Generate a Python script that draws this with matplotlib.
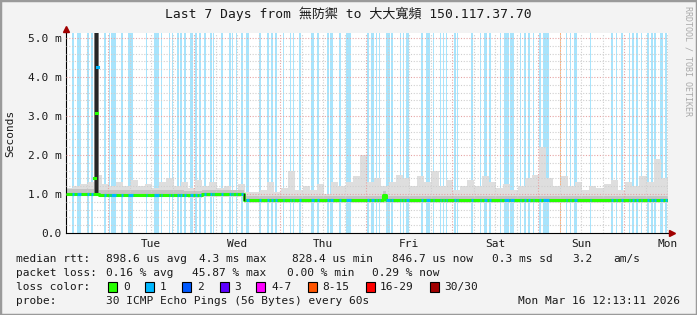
import numpy as np
import matplotlib
matplotlib.use('Agg')
import matplotlib.pyplot as plt
from matplotlib.patches import Rectangle

W, H = 697, 315
MONO = 'DejaVu Sans Mono'

# time axis: hours since Mon Mar 9 12:13:11 (graph spans 7 days)
span_h = 168
day_labels = ['Tue', 'Wed', 'Thu', 'Fri', 'Sat', 'Sun', 'Mon']
first_midnight = 11.78   # Tue 00:00

# periods with 1/30 packet loss (hours)
loss_start = [1.6, 3.1, 5.8, 7.0, 10.6, 11.9, 12.6, 15.3, 17.4, 22.3, 24.6, 26.4, 28.7, 29.6,
              30.9, 31.8, 32.9, 34.5, 36.1, 37.2, 38.5, 40.3, 41.0, 43.2, 45.5, 46.2, 47.4, 48.8,
              50.2, 53.9, 56.1, 57.2, 58.4, 60.6, 62.5, 63.3, 65.1, 68.4, 70.0, 72.7, 73.7, 76.2,
              78.0, 83.9, 85.1, 86.5, 87.3, 89.3, 90.7, 93.2, 94.0, 94.9, 99.0, 100.6, 102.4, 104.3,
              105.2, 106.0, 108.3, 109.1, 113.0, 115.5, 116.6, 118.0, 121.0, 122.2, 123.9, 126.7,
              127.8, 128.9, 130.3, 131.9, 133.1, 139.5, 140.6, 141.7, 146.2, 152.1, 153.5, 154.8,
              157.1, 157.9, 159.0, 160.4, 162.1, 163.2, 164.1, 165.7, 167.1]
loss_end = [2.3, 4.2, 6.4, 7.6, 11.2, 12.3, 14.0, 15.9, 18.6, 22.7, 25.9, 26.9, 29.0, 29.9,
            31.4, 32.3, 33.5, 35.4, 36.6, 37.6, 39.1, 40.7, 41.3, 43.8, 46.0, 46.7, 47.7, 49.5,
            51.1, 54.3, 56.6, 57.8, 58.9, 60.8, 62.9, 63.7, 65.5, 69.2, 70.5, 73.4, 74.4, 76.7,
            79.4, 84.6, 86.0, 86.9, 87.6, 90.4, 91.2, 93.5, 94.4, 95.6, 99.6, 101.6, 102.7, 104.7,
            105.5, 106.3, 108.8, 109.5, 113.6, 115.8, 117.5, 118.6, 121.5, 123.6, 125.1, 127.0,
            128.3, 129.6, 130.7, 132.5, 134.8, 139.9, 141.0, 142.6, 146.5, 152.7, 153.8, 155.4,
            157.4, 158.4, 159.6, 160.8, 162.6, 163.8, 164.6, 166.6, 167.6]
loss8_start = [137.8]
loss8_end = [138.1]

# median rtt (ms), step changes
median_t = [0, 9.3, 33, 38, 49.6, 88.6, 89.3, 168]
median_v = [1.0, 0.98, 0.97, 0.99, 0.84, 0.97, 0.84, 0.84]

# smoke top (ms), 2h bins
smoke_t = np.arange(0, 168, 2)
smoke_top = [1.15, 1.2, 1.25, 1.3, 1.5, 1.25, 1.2, 1.3, 1.2, 1.35, 1.2, 1.25, 1.15, 1.3,
             1.4, 1.2, 1.3, 1.15, 1.35, 1.2, 1.3, 1.15, 1.2, 1.1, 1.25, 1.05, 1.05, 1.1,
             1.3, 1.05, 1.15, 1.6, 1.1, 1.2, 1.1, 1.25, 1.0, 1.3, 1.2, 1.3, 1.45, 2.0,
             1.3, 1.4, 1.2, 1.3, 1.5, 1.4, 1.2, 1.45, 1.3, 1.6, 1.2, 1.35, 1.1, 1.2,
             1.35, 1.2, 1.45, 1.3, 1.15, 1.25, 1.1, 1.2, 1.4, 1.5, 2.2, 1.4, 1.2, 1.45,
             1.2, 1.3, 1.1, 1.2, 1.15, 1.25, 1.35, 1.1, 1.3, 1.2, 1.45, 1.3, 1.9, 1.4]

# the latency spike on Monday evening
spike_col = (7.73, 9.21)
spike_core = (8.18, 8.93)
spike_t = [8.0, 8.4, 8.85]
spike_v = [1.42, 3.07, 4.26]
spike_cls = [0, 0, 1]

loss_colors = ['#26ff00', '#00b8ff', '#0059ff', '#5e00ff', '#ff00ff', '#ff5500', '#ff0000', '#a10000']
loss_labels = ['0', '1', '2', '3', '4-7', '8-15', '16-29', '30/30']

ymax = 5.13


def med_at(t):
    i = np.searchsorted(median_t, t, side='right') - 1
    return median_v[max(0, min(i, len(median_v) - 1))]


fig = plt.figure(figsize=(W / 100, H / 100), dpi=100, facecolor='#f3f3f3')
L, R, T, B = 66, 668, 33, 233
ax = fig.add_axes([L / W, 1 - B / H, (R - L) / W, (B - T) / H])
ax.set_facecolor('white')
ax.set_xlim(0, span_h)
ax.set_ylim(0, ymax)

# loss background stripes
for s, e in zip(loss_start, loss_end):
    ax.axvspan(s, e, color='#a8e4fc', lw=0, zorder=1)
for s, e in zip(loss8_start, loss8_end):
    ax.axvspan(s, e, color='#ffb07a', lw=0, zorder=1)

# smoke
edges = np.append(smoke_t, span_h)
top = np.append(smoke_top, smoke_top[-1])
base = np.array([med_at(t) for t in edges]) - 0.06
ax.fill_between(edges, base, top, step='post', color='#dedede', lw=0, zorder=2)
mt = np.array(median_t, dtype=float)
mv = np.array(median_v)
ax.fill_between(mt, mv - 0.05, mv + 0.12, step='post', color='#c4c4c4', lw=0, zorder=2)

# grid
minor_y = np.arange(0.2, ymax, 0.2)
for y in minor_y:
    if abs(y - round(y)) > 0.01:
        ax.axhline(y, color='#cfcfcf', lw=0.8, ls=(0, (1, 1.5)), zorder=4)
for y in range(1, 6):
    ax.axhline(y, color='#e6a4a4', lw=0.8, ls=(0, (1, 1.5)), zorder=4)
for k in range(28):
    x = first_midnight - 6 + 6 * k
    if 0 < x < span_h and k % 4 != 1:
        ax.axvline(x, color='#cfcfcf', lw=0.8, ls=(0, (1, 1.5)), zorder=4)
for k in range(7):
    ax.axvline(first_midnight + 24 * k, color='#e6a4a4', lw=0.8, ls=(0, (1, 1.5)), zorder=4)

# spike column (drawn over the grid)
ax.fill_between(spike_col, 0.95, ymax, color='#7a7a7a', lw=0, zorder=4.5)
ax.fill_between(spike_core, 0.95, ymax, color='#262626', lw=0, zorder=4.6)

# median line: green, blue where 1 loss
ax.step(mt, mv, where='post', color=loss_colors[0], lw=2.2, zorder=5, solid_capstyle='butt')
for s, e in zip(loss_start, loss_end):
    v = med_at(s)
    ax.plot([s, e], [v, v], color=loss_colors[1], lw=2.2, zorder=6, solid_capstyle='butt')
ax.plot([49.6, 49.6], [0.84, 1.0], color='#222222', lw=1, zorder=6)
for t, v, c in zip(spike_t, spike_v, spike_cls):
    ax.plot([t - 0.15, t + 0.15], [v, v], color=loss_colors[c], lw=2.2, zorder=6)

# axes with arrow heads
for s in ['top', 'right']:
    ax.spines[s].set_visible(False)
ax.spines['left'].set_color('black')
ax.spines['bottom'].set_color('black')
ax.plot([0, 0], [1, 1.02], color='black', lw=0.8, transform=ax.transAxes, clip_on=False, zorder=10)
ax.plot([1, 1.006], [0, 0], color='black', lw=0.8, transform=ax.transAxes, clip_on=False, zorder=10)
ax.plot([0], [1.02], marker='^', color='#a10000', ms=5, transform=ax.transAxes, clip_on=False, zorder=10)
ax.plot([1.006], [0], marker='>', color='#a10000', ms=5, transform=ax.transAxes, clip_on=False, zorder=10)

ax.set_yticks(range(6), ['0.0', '1.0 m', '2.0 m', '3.0 m', '4.0 m', '5.0 m'])
ax.set_xticks([first_midnight + 12 + 24 * k for k in range(7)], day_labels)
ax.tick_params(axis='both', length=0, labelsize=8, colors='#1a1a1a')
ax.tick_params(axis='y', pad=3)
ax.tick_params(axis='x', pad=4)
for lab in ax.get_xticklabels() + ax.get_yticklabels():
    lab.set_family(MONO)


def ftext(x, y, s, **kw):
    kw.setdefault('family', MONO)
    kw.setdefault('fontsize', 8)
    kw.setdefault('color', '#1a1a1a')
    kw.setdefault('va', 'center')
    fig.text(x / W, 1 - y / H, s, **kw)


ftext(348, 14, 'Last 7 Days from 無防禦 to 大大寬頻 150.117.37.70', ha='center', fontsize=9.4,
      family=[MONO, 'Noto Sans CJK TC'])
ftext(10, 133, 'Seconds', rotation=90, ha='center')
ftext(688, 6, 'RRDTOOL / TOBI OETIKER', rotation=270, ha='center', va='top', fontsize=6, color='#aaaaaa')

row1 = [(16, 'median rtt:'), (106, '898.6 us avg'), (199, '4.3 ms max'), (292, '828.4 us min'),
        (392, '846.7 us now'), (492, '0.3 ms sd'), (572, '3.2'), (613, 'am/s')]
for x, s in row1:
    ftext(x, 259, s)
row2 = [(16, 'packet loss:'), (106, '0.16 % avg'), (192, '45.87 % max'), (286.7, '0.00 % min'),
        (372.4, '0.29 % now')]
for x, s in row2:
    ftext(x, 273, s)
ftext(16, 287, 'loss color:')
box_x = [108, 145, 182, 219.6, 256.4, 307.6, 366, 430]
lab_x = [123.6, 160, 197, 234, 271, 322, 380, 444]
for bx, lx, c, lab in zip(box_x, lab_x, loss_colors, loss_labels):
    fig.patches.append(Rectangle((bx / W, 1 - 292 / H), 9 / W, 10 / H, transform=fig.transFigure,
                                 facecolor=c, edgecolor='black', lw=0.8))
    ftext(lx, 287, lab)
ftext(16, 301, 'probe:')
ftext(106, 301, '30 ICMP Echo Pings (56 Bytes) every 60s')
ftext(680, 301, 'Mon Mar 16 12:13:11 2026', ha='right')

# frame
fig.patches.append(Rectangle((0, 0), 1, 1, transform=fig.transFigure, fill=False,
                             edgecolor='#9a9a9a', lw=2.5))

fig.savefig('out.png', dpi=100, facecolor=fig.get_facecolor())
